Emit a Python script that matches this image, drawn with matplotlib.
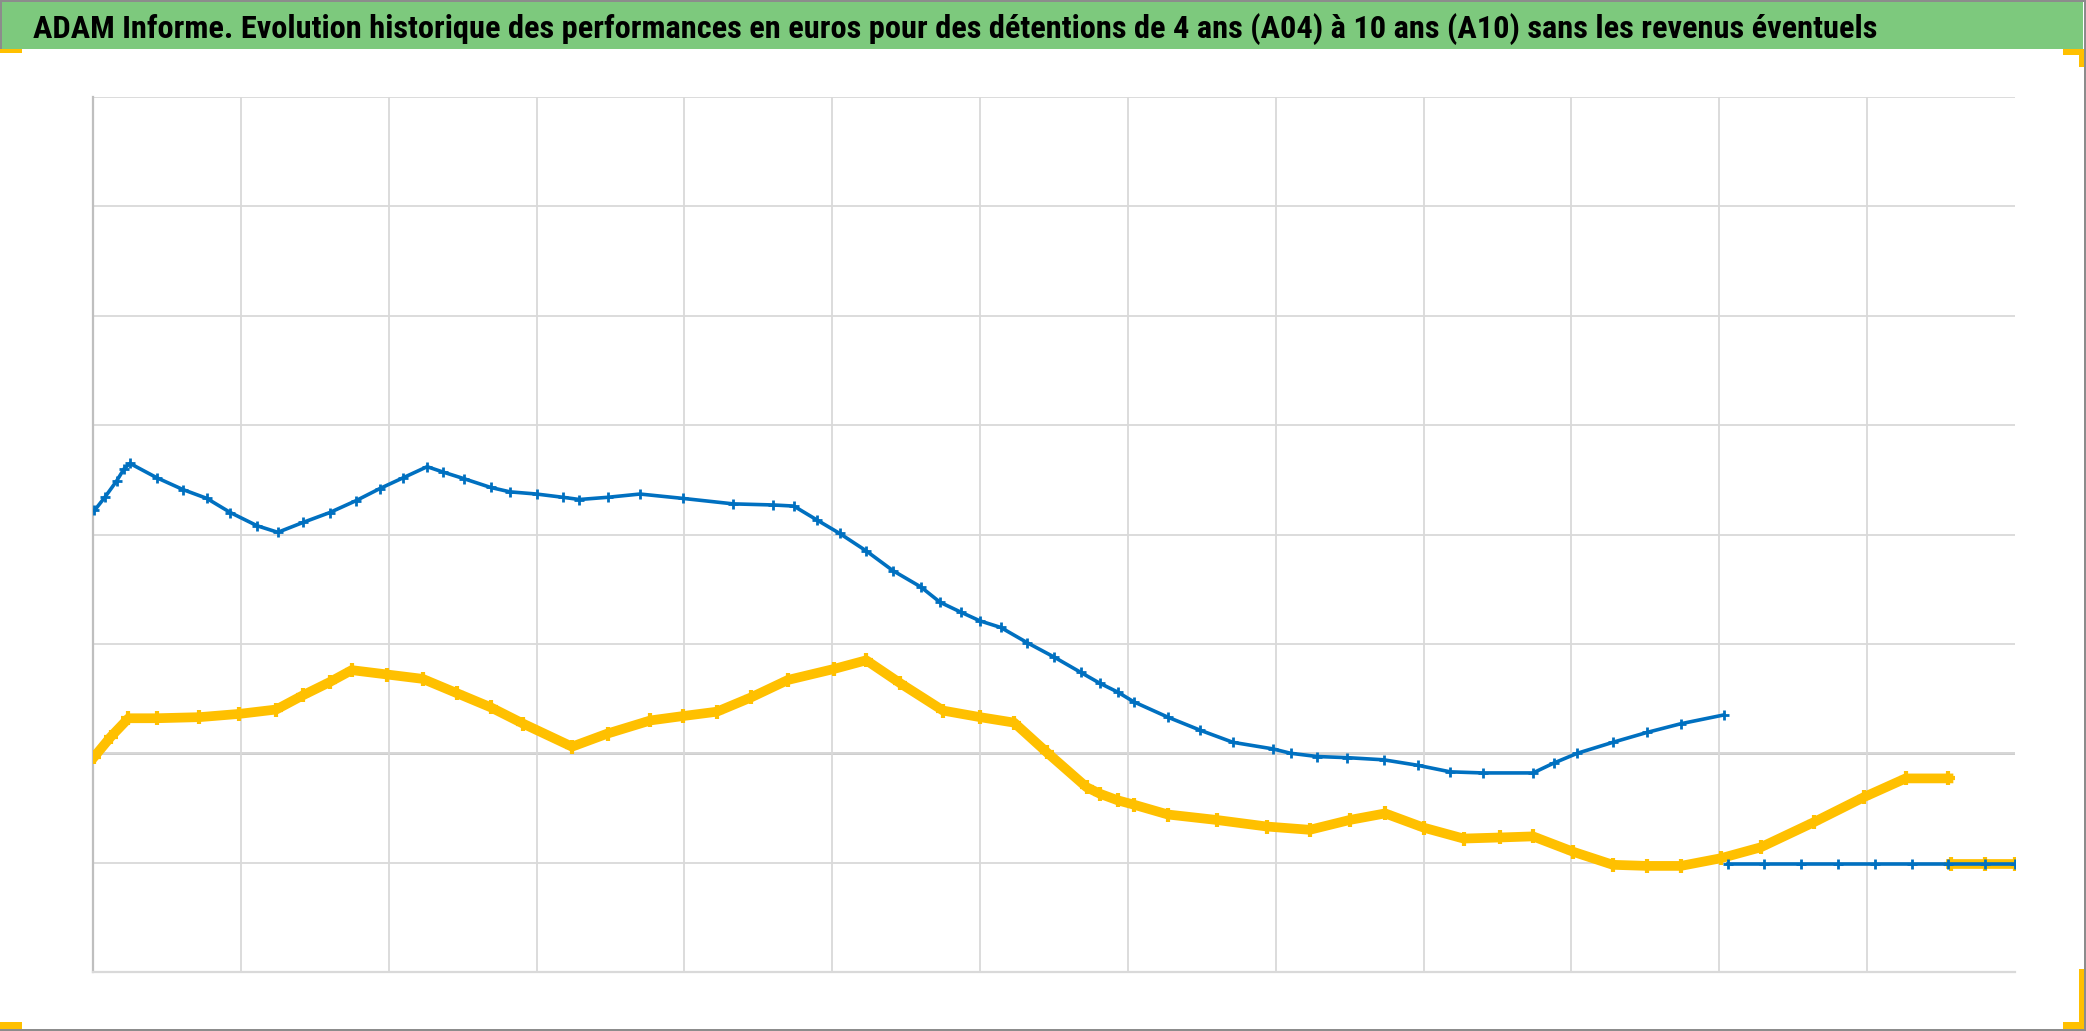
import matplotlib
matplotlib.use("Agg")
import matplotlib.pyplot as plt
from matplotlib.patches import Rectangle

W, H = 2086, 1031

title = ("ADAM Informe. Evolution historique des performances en euros pour des "
         "détentions de 4 ans (A04) à 10 ans (A10) sans les revenus éventuels")

# A04 (blue) -- x in grid intervals, y in grid units
a04_x = [0.01, 0.08, 0.16, 0.21, 0.25, 0.43, 0.61, 0.77, 0.93, 1.11, 1.25, 1.42,
         1.60, 1.78, 1.94, 2.10, 2.26, 2.37, 2.51, 2.69, 2.82, 3.00, 3.18, 3.29,
         3.48, 3.70, 3.99, 4.33, 4.60, 4.74, 4.90, 5.05, 5.23, 5.41, 5.60, 5.73,
         5.87, 6.00, 6.14, 6.32, 6.50, 6.68, 6.81, 6.93, 7.04, 7.27, 7.49, 7.71,
         7.98, 8.10, 8.28, 8.48, 8.73, 8.96, 9.18, 9.40, 9.74, 9.88, 10.04, 10.28,
         10.51, 10.74, 11.03]
a04_y = [2.22, 2.34, 2.49, 2.60, 2.65, 2.52, 2.41, 2.33, 2.20, 2.08, 2.02, 2.11,
         2.20, 2.31, 2.42, 2.52, 2.62, 2.57, 2.51, 2.43, 2.39, 2.37, 2.34, 2.32,
         2.34, 2.37, 2.33, 2.28, 2.27, 2.26, 2.13, 2.01, 1.85, 1.67, 1.52, 1.38,
         1.29, 1.21, 1.15, 1.01, 0.88, 0.74, 0.64, 0.56, 0.47, 0.33, 0.21, 0.10,
         0.04, 0.00, -0.03, -0.04, -0.06, -0.11, -0.17, -0.18, -0.18, -0.09, 0.00, 0.10,
         0.19, 0.27, 0.35]
a04_tail_x = [11.06, 11.3, 11.55, 11.8, 12.05, 12.3, 12.55, 12.8, 13.0]
a04_tail_y = [-1.01, -1.01, -1.01, -1.01, -1.01, -1.01, -1.01, -1.01, -1.01]

# A10 (yellow)
a10_x = [0.01, 0.12, 0.24, 0.43, 0.72, 0.99, 1.24, 1.42, 1.60, 1.75, 1.99, 2.23,
         2.46, 2.69, 2.91, 3.24, 3.48, 3.77, 3.99, 4.22, 4.45, 4.70, 5.01, 5.23,
         5.46, 5.75, 6.00, 6.23, 6.45, 6.72, 6.81, 6.93, 7.04, 7.27, 7.60, 7.94,
         8.23, 8.50, 8.74, 9.00, 9.27, 9.52, 9.74, 10.01, 10.28, 10.51, 10.74, 11.01,
         11.28, 11.64, 11.98, 12.26, 12.55]
a10_y = [-0.03, 0.15, 0.32, 0.32, 0.33, 0.36, 0.40, 0.53, 0.65, 0.76, 0.72, 0.68,
         0.55, 0.42, 0.27, 0.06, 0.18, 0.30, 0.34, 0.38, 0.51, 0.67, 0.77, 0.85,
         0.64, 0.39, 0.33, 0.28, 0.01, -0.31, -0.37, -0.43, -0.47, -0.56, -0.61, -0.67,
         -0.70, -0.61, -0.55, -0.68, -0.78, -0.77, -0.76, -0.90, -1.02, -1.03, -1.03, -0.96,
         -0.86, -0.63, -0.40, -0.23, -0.23]
a10_tail_x = [12.57, 12.8, 13.0]
a10_tail_y = [-1.01, -1.01, -1.01]

BLUE = "#0070C0"
GOLD = "#FFC000"
GREEN = "#7DC97D"

fig = plt.figure(figsize=(W / 100, H / 100), dpi=100)

# title band
fig.patches.append(Rectangle((0, 1 - 49 / H), 2083 / W, 49 / H, transform=fig.transFigure,
                             facecolor=GREEN, edgecolor="none", zorder=0))
# frame lines of the screenshot
for x0, y0, w, h in [(0, H - 2, W, 2), (0, 0, W, 2), (W - 2, 0, 2, H), (0, H - 49, 1.5, 49)]:
    fig.patches.append(Rectangle((x0 / W, y0 / H), w / W, h / H, transform=fig.transFigure,
                                 facecolor="#8C8C8C", edgecolor="none", zorder=1))
# yellow corner handles
for x0, y0, w, h in [(0, H - 53, 22, 4), (2063, H - 55, 20, 6), (2079, H - 67, 5, 18),
                     (0, 2, 22, 7), (2063, 2, 21, 7), (2079, 2, 5, 60)]:
    fig.patches.append(Rectangle((x0 / W, y0 / H), w / W, h / H, transform=fig.transFigure,
                                 facecolor=GOLD, edgecolor="none", zorder=1))

t = fig.text(33 / W, 1 - 38 / H, title, fontsize=26, fontweight="bold", color="black",
             family=["Roboto Condensed", "DejaVu Sans"], fontstretch="condensed",
             ha="left", va="baseline")
fig.canvas.draw()
bb = t.get_window_extent()
t.set_fontsize(26 * (1877 - 33) / bb.width)

ax = fig.add_axes([93 / W, (H - 972) / H, (2015 - 93) / W, (972 - 97) / H])
ax.set_xlim(0, 13)
ax.set_ylim(-2, 6)
ax.set_xticks(range(1, 13))
ax.set_yticks(range(-1, 7))
ax.grid(True, color="#D9D9D9", linewidth=1.3)
ax.tick_params(length=0, labelbottom=False, labelleft=False)
for s in ["top", "right"]:
    ax.spines[s].set_visible(False)
ax.spines["left"].set_color("#BFBFBF")
ax.spines["left"].set_linewidth(1.6)
ax.spines["bottom"].set_color("#D9D9D9")
ax.spines["bottom"].set_linewidth(1.6)
ax.axhline(0, color="#BFBFBF", linewidth=1.8, zorder=1.5)

ax.plot(a10_x, a10_y, color=GOLD, linewidth=7, marker="+", markersize=10, mew=3,
        solid_joinstyle="round", zorder=3)
ax.plot(a10_tail_x, a10_tail_y, color=GOLD, linewidth=7, marker="+", markersize=10, mew=3, zorder=3)
ax.plot(a04_x, a04_y, color=BLUE, linewidth=2.6, marker="+", markersize=7, mew=2,
        solid_joinstyle="round", zorder=4)
ax.plot(a04_tail_x, a04_tail_y, color=BLUE, linewidth=2.6, marker="+", markersize=7, mew=2, zorder=4)

fig.savefig("out.png", dpi=100)
